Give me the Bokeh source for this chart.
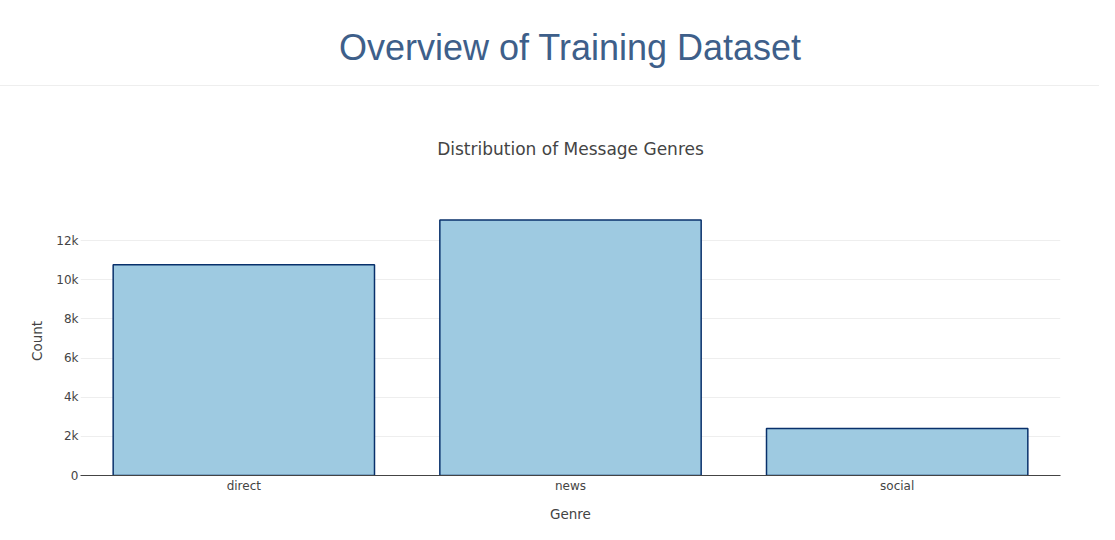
from bokeh.plotting import figure
from bokeh.models import Div, FactorRange, Range1d, FixedTicker, NumeralTickFormatter, ColumnDataSource
from bokeh.layouts import column
from bokeh.embed import file_html
from bokeh.resources import INLINE

# Data
genres = ["direct", "news", "social"]
counts = [10766, 13054, 2396]
y_ticks = [0, 2000, 4000, 6000, 8000, 10000, 12000]

header = Div(
    text='<div style="width:1099px;height:86px;border-bottom:1px solid #eeeeee;'
         'text-align:center;font-family:\'Liberation Sans\',Arial,sans-serif;'
         'font-size:36px;color:#3e5f8a;padding-top:22px;padding-left:41px;box-sizing:border-box;">'
         'Overview of Training Dataset</div>',
    width=1099, height=86,
    styles={"margin": "0", "padding": "0"},
)

src = ColumnDataSource(dict(genre=genres, count=counts))

p = figure(
    x_range=FactorRange(*genres),
    y_range=Range1d(0, max(counts) * 1.0526),
    width=1099, height=438,
    output_backend="svg", toolbar_location=None,
    min_border_left=80, min_border_right=39, min_border_top=120, min_border_bottom=47,
    title="Distribution of Message Genres",
)
p.vbar(x="genre", top="count", width=0.8, source=src,
       fill_color="#9ecae1", line_color="#08306b", line_width=1.5)

p.outline_line_color = None
p.title.align = "center"
p.title.text_font = "DejaVu Sans"
p.title.text_font_size = "17px"
p.title.text_font_style = "normal"
p.title.text_color = "#444444"
p.title.standoff = 96

p.xgrid.grid_line_color = None
p.ygrid.grid_line_color = "#eeeeee"
p.ygrid.grid_line_width = 1

p.yaxis.ticker = FixedTicker(ticks=y_ticks)
p.yaxis.formatter = NumeralTickFormatter(format="0a")
p.yaxis.axis_line_color = None
p.yaxis.major_tick_line_color = None
p.yaxis.minor_tick_line_color = None
p.yaxis.major_tick_out = 0
p.yaxis.major_tick_in = 0
p.yaxis.axis_label = "Count"
p.yaxis.major_label_standoff = 2
p.yaxis.axis_label_standoff = 8

p.xaxis.axis_line_color = "#444444"
p.xaxis.axis_line_width = 1
p.xaxis.major_tick_line_color = None
p.xaxis.minor_tick_line_color = None
p.xaxis.major_tick_out = 0
p.xaxis.major_tick_in = 0
p.xaxis.axis_label = "Genre"
p.xaxis.major_label_standoff = 3
p.xaxis.axis_label_standoff = 10

for ax in (p.xaxis, p.yaxis):
    ax.major_label_text_font = "DejaVu Sans"
    ax.major_label_text_font_size = "12px"
    ax.major_label_text_color = "#444444"
    ax.axis_label_text_font = "DejaVu Sans"
    ax.axis_label_text_font_size = "13.5px"
    ax.axis_label_text_font_style = "normal"
    ax.axis_label_text_color = "#444444"

layout = column(header, p, spacing=0)
open("out.html", "w").write(file_html(layout, INLINE))
